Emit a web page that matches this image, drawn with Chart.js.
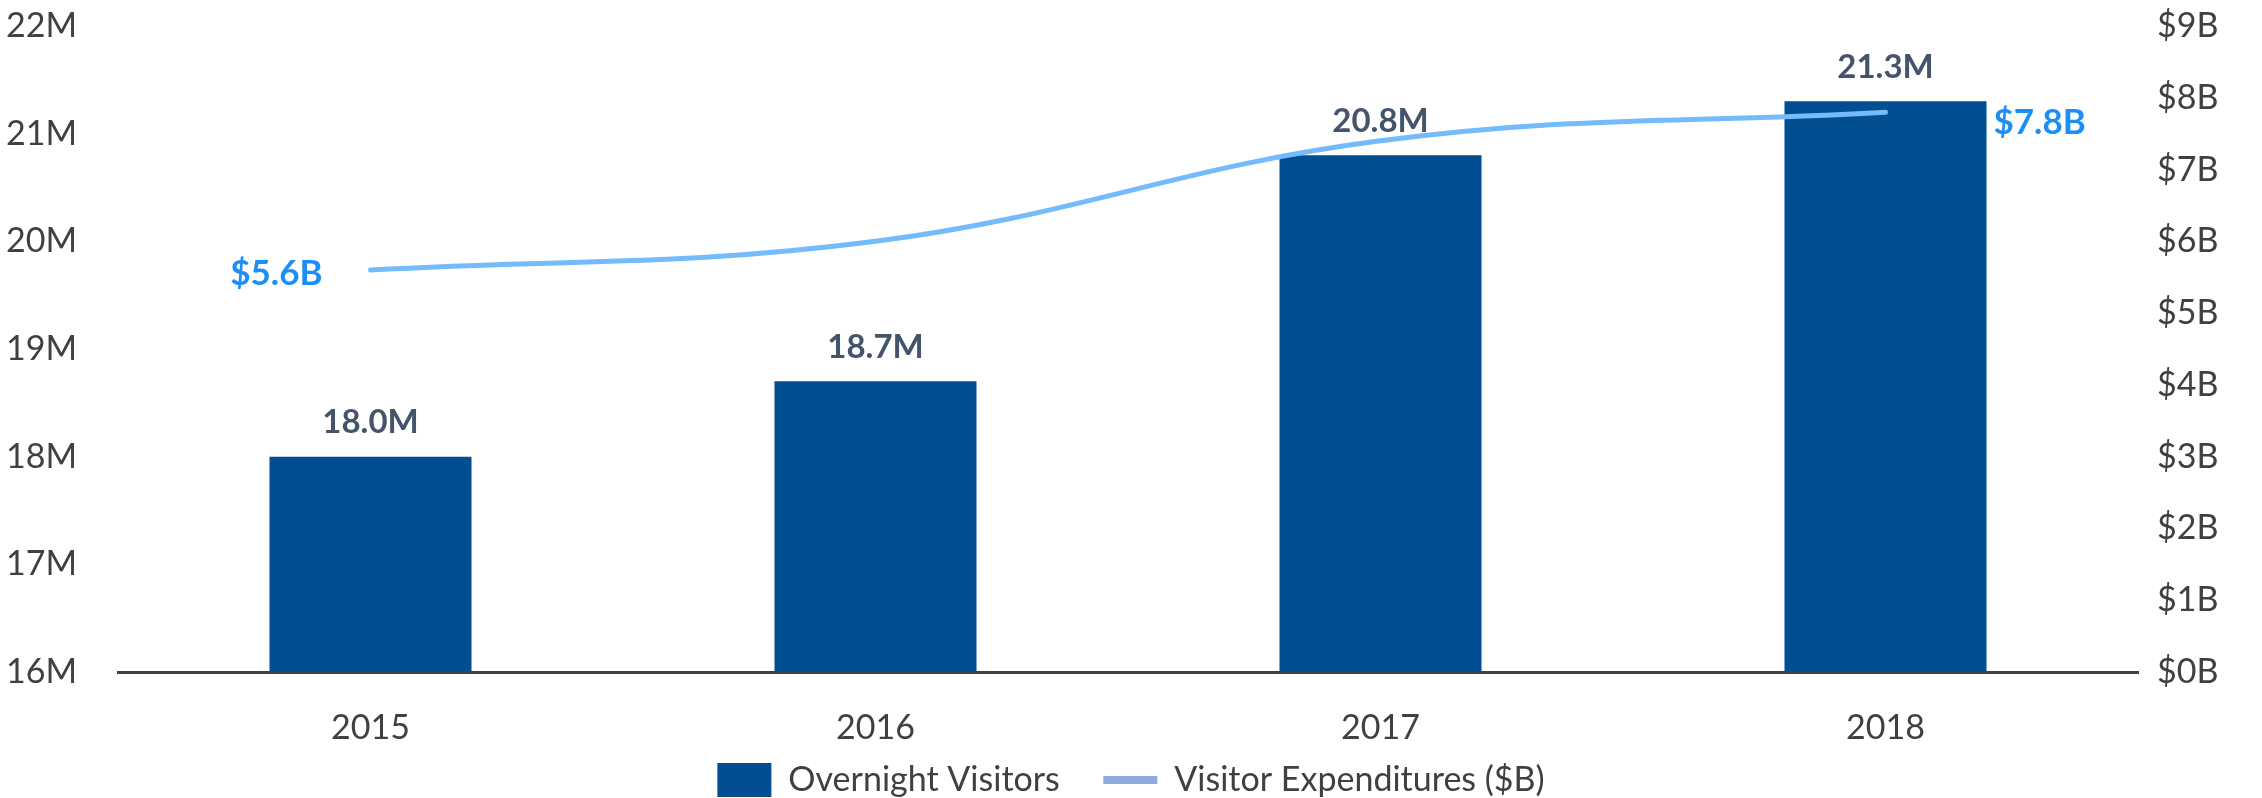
<!DOCTYPE html>
<html>
<head>
<meta charset="utf-8">
<script src="https://cdn.jsdelivr.net/npm/chart.js@4/dist/chart.umd.min.js"></script>
<style>
  html, body { margin: 0; padding: 0; background: #fff; }
  #wrap { width: 2262px; height: 798px; }
</style>
</head>
<body>
<div id="wrap"><canvas id="chart"></canvas></div>
<script>
const years = ['2015', '2016', '2017', '2018']
const visitors = [18.0, 18.7, 20.8, 21.3]       // millions
const spending = [5.6, 6.0, 7.4, 7.8]           // billions
const visitorTicks = [16, 17, 18, 19, 20, 21, 22]
const spendingTicks = [0, 1, 2, 3, 4, 5, 6, 7, 8, 9]
// only the first and last spending points carry a label
const spendingLabelAt = [0, 3]

const FONT = 'Lato'
const GREY = '#404040'

Chart.defaults.font.family = FONT
Chart.defaults.font.size = 34
Chart.defaults.color = GREY

// value labels over bars and next to the line ends
const valueLabels = {
    id: 'valueLabels',
    afterDatasetsDraw(chart) {
        let ctx = chart.ctx
        ctx.save()
        ctx.textBaseline = 'middle'

        let bars = chart.getDatasetMeta(1).data
        ctx.font = `bold 33px ${FONT}`
        ctx.fillStyle = '#44546A'
        ctx.textAlign = 'center'
        bars.forEach((bar, i) => {
            ctx.fillText(visitors[i].toFixed(1) + 'M', bar.x, bar.y - 34)
        })

        let pts = chart.getDatasetMeta(0).data
        ctx.font = `bold 35px ${FONT}`
        ctx.fillStyle = '#1B8EF8'
        for (let i of spendingLabelAt) {
            let p = pts[i]
            let txt = '$' + spending[i].toFixed(1) + 'B'
            if (i == 0) {
                ctx.textAlign = 'right'
                ctx.fillText(txt, p.x - 48, p.y + 4)
            } else {
                ctx.textAlign = 'left'
                ctx.fillText(txt, p.x + 108, p.y + 11)
            }
        }
        ctx.restore()
    }
}

// fixed side widths, and the top label sits on the chart edge
function fitSide(width) {
    return s => {
        s.width = width
        s.paddingTop = 0
        s.paddingBottom = 0
    }
}

let chart = new Chart(document.getElementById('chart'), {
    data: {
        labels: years,
        datasets: [{
            type: 'line',
            label: 'Visitor Expenditures ($B)',
            data: spending,
            yAxisID: 'y1',
            borderColor: '#74BBFB',
            borderWidth: 5,
            borderCapStyle: 'round',
            tension: 0.4,
            pointRadius: 0,
            order: 0
        }, {
            type: 'bar',
            label: 'Overnight Visitors',
            data: visitors,
            yAxisID: 'y',
            backgroundColor: '#014E91',
            barPercentage: 0.4,
            categoryPercentage: 1,
            order: 1
        }]
    },
    options: {
        responsive: true,
        maintainAspectRatio: false,
        animation: false,
        layout: { padding: { top: 26, left: 0, right: 0, bottom: -9 } },
        scales: {
            x: {
                grid: { display: false },
                border: { display: true, color: GREY, width: 3 },
                ticks: { padding: 28, color: GREY },
                afterFit: s => { s.height = 91 }
            },
            y: {
                position: 'left',
                min: 16, max: 22,
                afterBuildTicks: s => { s.ticks = visitorTicks.map(v => ({ value: v })) },
                grid: { display: false },
                border: { display: false },
                ticks: { padding: 33, font: { lineHeight: 1 }, callback: v => v + 'M' },
                afterFit: fitSide(118)
            },
            y1: {
                position: 'right',
                min: 0, max: 9,
                afterBuildTicks: s => { s.ticks = spendingTicks.map(v => ({ value: v })) },
                grid: { display: false },
                border: { display: false },
                ticks: { padding: 11, font: { lineHeight: 1 }, callback: v => '$' + v + 'B' },
                afterFit: fitSide(124)
            }
        },
        plugins: {
            tooltip: { enabled: false },
            legend: {
                position: 'bottom',
                reverse: true,
                labels: {
                    font: { size: 34 },
                    color: GREY,
                    usePointStyle: true,
                    boxWidth: 54,
                    boxHeight: 36,
                    pointStyleWidth: 54,
                    padding: 0,
                    generateLabels(chart) {
                        let items = Chart.defaults.plugins.legend.labels.generateLabels(chart)
                        for (let it of items) {
                            if (it.datasetIndex == 1) {
                                it.pointStyle = 'rect'
                                it.lineWidth = 0
                                // wider gap before the next entry
                                it.text = it.text + '\u00a0\u00a0\u00a0\u00a0\u00a0'
                            } else {
                                it.pointStyle = 'line'
                                it.strokeStyle = '#8FAADC'
                                it.lineWidth = 8
                            }
                        }
                        return items
                    }
                }
            }
        }
    },
    plugins: [valueLabels]
})
</script>
</body>
</html>
